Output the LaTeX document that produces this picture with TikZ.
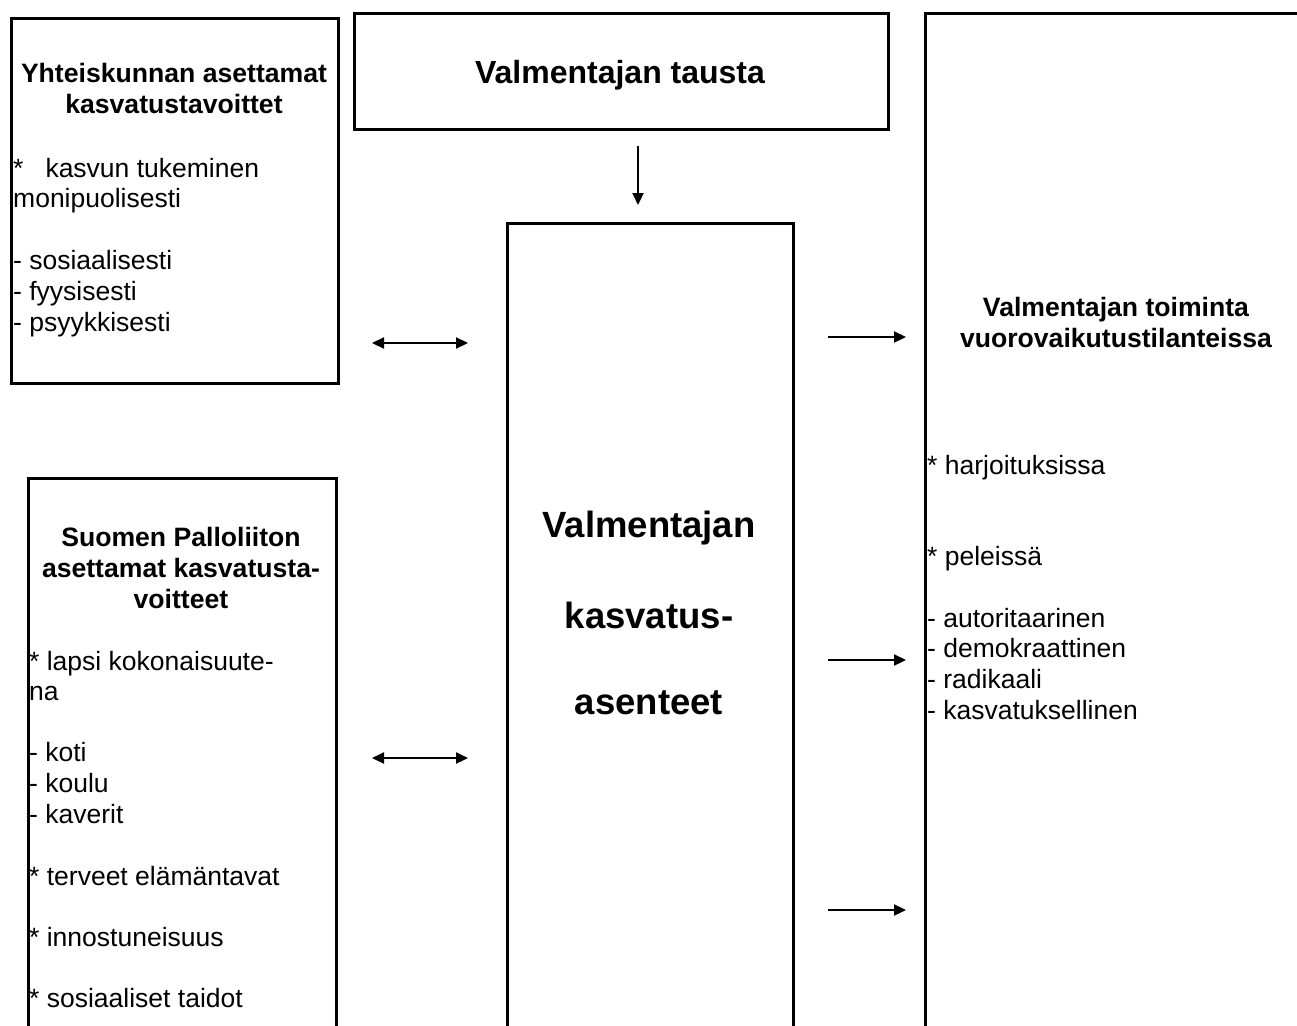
\documentclass[tikz,border=0pt]{standalone}
\usepackage{fontspec}
\setmainfont{Liberation Sans}
\usetikzlibrary{arrows.meta}
\begin{document}
\begin{tikzpicture}[x=1pt,y=-1pt,
  box/.style={draw, line width=2.8pt, inner sep=0, anchor=north west},
  hd/.style={font=\fontsize{26.6}{31}\selectfont\bfseries, inner sep=0, anchor=base},
  big/.style={font=\fontsize{36.5}{40}\selectfont\bfseries, inner sep=0, anchor=base},
  item/.style={font=\fontsize{26.5}{31}\selectfont, inner sep=0, anchor=base west},
  arr/.style={line width=2.2pt, -{Triangle[length=12pt,width=11pt]}},
  darr/.style={line width=2.2pt, {Triangle[length=12pt,width=11pt]}-{Triangle[length=12pt,width=11pt]}}]
\useasboundingbox (0,0) rectangle (1297,1025);
\clip (0,0) rectangle (1297,1025);

% boxes
\node[box, minimum width=327pt, minimum height=365pt] (yht) at (10,17) {};
\node[box, minimum width=534pt, minimum height=116pt] (tausta) at (353,12) {};
\node[box, minimum width=286pt, minimum height=900pt] (asenne) at (506,222) {};
\node[box, minimum width=308pt, minimum height=700pt] (spl) at (27,477) {};
\node[box, minimum width=500pt, minimum height=1100pt] (toim) at (924,12) {};

% texts
\node[font=\fontsize{32}{36}\selectfont\bfseries, inner sep=0, anchor=base] (taustat) at (620,83) {Valmentajan tausta};

\foreach \t/\y [count=\i] in {Yhteiskunnan asettamat/82, kasvatustavoittet/113}
  \node[hd] (yhth\i) at (174,\y) {\t};
\foreach \t/\y [count=\i] in {*\hspace{22pt}kasvun tukeminen/177, monipuolisesti/207, - sosiaalisesti/269, - fyysisesti/300, - psyykkisesti/331}
  \node[item] (yhti\i) at (13,\y) {\t};

\foreach \t/\y [count=\i] in {Suomen Palloliiton/546, asettamat kasvatusta-/577, voitteet/608}
  \node[hd] (splh\i) at (181,\y) {\t};
\foreach \t/\y [count=\i] in {* lapsi kokonaisuute-/670, na/700, - koti/761, - koulu/792, - kaverit/823, * terveet elämäntavat/885, * innostuneisuus/946, * sosiaaliset taidot/1007}
  \node[item] (spli\i) at (29,\y) {\t};

\foreach \t/\y [count=\i] in {Valmentajan/537, kasvatus-/628, asenteet/714}
  \node[big] (asenneh\i) at (649,\y) {\t};

\foreach \t/\y [count=\i] in {Valmentajan toiminta/316, vuorovaikutustilanteissa/347}
  \node[hd] (toimh\i) at (1116,\y) {\t};
\foreach \t/\y [count=\i] in {* harjoituksissa/474, * peleissä/565, - autoritaarinen/627, - demokraattinen/657, - radikaali/688, - kasvatuksellinen/719}
  \node[item] (toimi\i) at (927,\y) {\t};

% connector end points
\coordinate (d1) at (638,146); \coordinate (d2) at (638,205);
\coordinate (l1a) at (372,343); \coordinate (l1b) at (468,343);
\coordinate (l2a) at (372,758); \coordinate (l2b) at (468,758);
\coordinate (r1a) at (828,337); \coordinate (r1b) at (906,337);
\coordinate (r2a) at (828,660); \coordinate (r2b) at (906,660);
\coordinate (r3a) at (828,910); \coordinate (r3b) at (906,910);

\draw[arr] (d1) -- (d2);
\draw[darr] (l1a) -- (l1b);
\draw[darr] (l2a) -- (l2b);
\draw[arr] (r1a) -- (r1b);
\draw[arr] (r2a) -- (r2b);
\draw[arr] (r3a) -- (r3b);
\end{tikzpicture}
\end{document}
